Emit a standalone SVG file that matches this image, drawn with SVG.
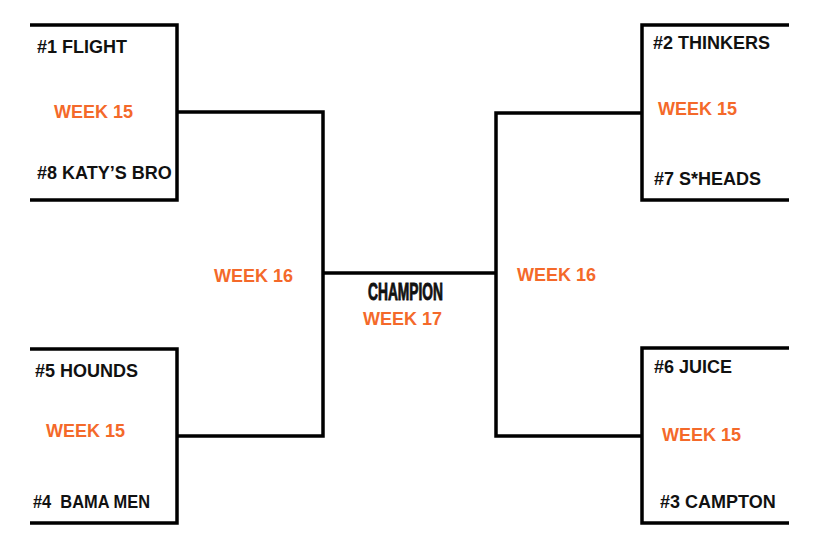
<svg xmlns="http://www.w3.org/2000/svg" width="834" height="550" viewBox="0 0 834 550">
<style>
.ln{fill:none;stroke:#000;stroke-width:3.5;stroke-linecap:butt;stroke-linejoin:miter}
.team{font-family:"Liberation Sans",Arial,sans-serif;font-weight:bold;font-size:18px;fill:#111}
.wk{font-family:"Liberation Sans",Arial,sans-serif;font-weight:bold;font-size:18px;fill:#f4692a}
.champ{font-family:"Liberation Sans",Arial,sans-serif;font-weight:bold;font-size:23px;fill:#111;stroke:#111;stroke-width:0.9}
</style>
<rect width="834" height="550" fill="#fff"/>
<g id="connectors">
<polyline class="ln" points="30,25 177,25 177,200 30,200"/>
<polyline class="ln" points="30,349 177,349 177,523 30,523"/>
<polyline class="ln" points="789,25 642,25 642,200 789,200"/>
<polyline class="ln" points="789,348 642,348 642,523 789,523"/>
<polyline class="ln" points="177,112 323,112 323,436 177,436"/>
<polyline class="ln" points="642,113 496,113 496,436 642,436"/>
<line class="ln" x1="323" y1="273" x2="496" y2="273"/>
</g>
<g id="match-1-8">
<text class="team" x="37" y="53">#1 FLIGHT</text>
<text class="wk" x="54" y="118">WEEK 15</text>
<text class="team" x="37" y="179">#8 KATY’S BRO</text>
</g>
<g id="match-5-4">
<text class="team" x="35" y="377">#5 HOUNDS</text>
<text class="wk" x="46" y="437">WEEK 15</text>
<text class="team" x="33" y="508" xml:space="preserve" textLength="117" lengthAdjust="spacingAndGlyphs">#4  BAMA MEN</text>
</g>
<g id="match-2-7">
<text class="team" x="653" y="49">#2 THINKERS</text>
<text class="wk" x="658" y="115">WEEK 15</text>
<text class="team" x="654" y="185">#7 S*HEADS</text>
</g>
<g id="match-6-3">
<text class="team" x="654" y="373">#6 JUICE</text>
<text class="wk" x="662" y="441">WEEK 15</text>
<text class="team" x="660" y="508">#3 CAMPTON</text>
</g>
<g id="semi-left">
<text class="wk" x="214" y="282">WEEK 16</text>
</g>
<g id="semi-right">
<text class="wk" x="517" y="281">WEEK 16</text>
</g>
<g id="champion">
<text class="champ" x="368" y="300" textLength="75" lengthAdjust="spacingAndGlyphs">CHAMPION</text>
<text class="wk" x="363" y="325">WEEK 17</text>
</g>
</svg>
